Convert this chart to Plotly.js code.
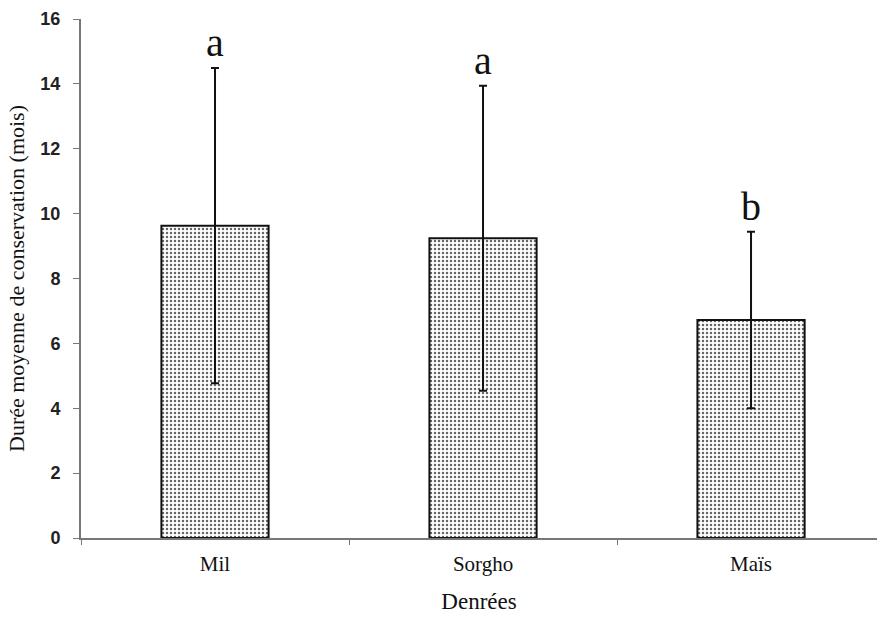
<!DOCTYPE html>
<html>
<head>
<meta charset="utf-8">
<script src="https://cdn.plot.ly/plotly-3.0.1.min.js"></script>
<style>html,body{margin:0;padding:0;background:#fff;}#chart{width:877px;height:621px;}</style>
</head>
<body>
<div id="chart"></div>
<script>
const categories = ["Mil", "Sorgho", "Maïs"];
const means = [9.63, 9.24, 6.72];
const errors = [4.86, 4.7, 2.72];
const letters = ["a", "a", "b"];

const trace = {
  type: "bar",
  x: categories,
  y: means,
  width: 0.4,
  marker: {
    color: "#ffffff",
    line: {color: "#111", width: 2},
    pattern: {shape: ".", fgcolor: "#666", bgcolor: "#ffffff", size: 4, solidity: 0.3}
  },
  error_y: {type: "data", array: errors, visible: true, color: "#111", thickness: 2, width: 4},
  hoverinfo: "skip"
};

const annotations = categories.map((c, i) => ({
  x: c, y: means[i] + errors[i], xref: "x", yref: "y",
  text: letters[i], showarrow: false, yanchor: "bottom", yshift: 1,
  font: {family: "Liberation Serif", size: 40, color: "#111"}
}));

const layout = {
  width: 877, height: 621,
  margin: {l: 81, r: 0, t: 19, b: 83},
  paper_bgcolor: "#fff", plot_bgcolor: "#fff",
  showlegend: false,
  xaxis: {
    type: "category",
    range: [-0.5, 2.47],
    showline: true, linecolor: "#777", linewidth: 2,
    ticks: "outside", tickson: "boundaries", ticklen: 5, tickcolor: "#777", tickwidth: 1,
    ticklabelstandoff: 6,
    tickfont: {family: "Liberation Serif", size: 21, color: "#111"},
    showgrid: false, zeroline: false,
    title: {text: "Denrées", font: {family: "Liberation Serif", size: 23, color: "#111"}, standoff: 18}
  },
  yaxis: {
    range: [0, 16], dtick: 2,
    showline: true, linecolor: "#777", linewidth: 2,
    ticks: "outside", ticklen: 6, tickcolor: "#777", tickwidth: 1,
    ticklabelstandoff: 9,
    tickfont: {family: "Liberation Sans", size: 18, color: "#222", weight: "bold"},
    showgrid: false, zeroline: false,
    title: {text: "Durée moyenne de conservation (mois)", font: {family: "Liberation Serif", size: 22, color: "#111"}, standoff: 10}
  },
  annotations: annotations
};

Plotly.newPlot("chart", [trace], layout, {displayModeBar: false, staticPlot: true});
</script>
</body>
</html>
